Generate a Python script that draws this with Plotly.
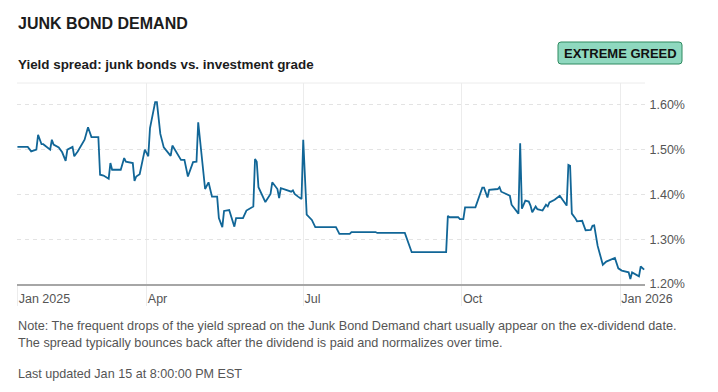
import plotly.graph_objects as go

# ---------------- data ----------------
dates = [
    "2025-01-16", "2025-01-22", "2025-01-24", "2025-01-27", "2025-01-28", "2025-01-30", "2025-01-31",
    "2025-02-04", "2025-02-05", "2025-02-06", "2025-02-09", "2025-02-11", "2025-02-13", "2025-02-14",
    "2025-02-17", "2025-02-18", "2025-02-20", "2025-02-24", "2025-02-26", "2025-02-28",
    "2025-03-04", "2025-03-05", "2025-03-07", "2025-03-10", "2025-03-11", "2025-03-12", "2025-03-17",
    "2025-03-19", "2025-03-20", "2025-03-24", "2025-03-25", "2025-03-26", "2025-03-28", "2025-03-31",
    "2025-04-02", "2025-04-03", "2025-04-06", "2025-04-07", "2025-04-09", "2025-04-11", "2025-04-15",
    "2025-04-16", "2025-04-21", "2025-04-23", "2025-04-25", "2025-04-28", "2025-04-30",
    "2025-05-01", "2025-05-05", "2025-05-07", "2025-05-09", "2025-05-12", "2025-05-13", "2025-05-15",
    "2025-05-16", "2025-05-19", "2025-05-22", "2025-05-23", "2025-05-27", "2025-05-29",
    "2025-06-02", "2025-06-03", "2025-06-04", "2025-06-05", "2025-06-09", "2025-06-12", "2025-06-13",
    "2025-06-16", "2025-06-17", "2025-06-18", "2025-06-21", "2025-06-24", "2025-06-25", "2025-06-26",
    "2025-06-28", "2025-06-30",
    "2025-07-01", "2025-07-03", "2025-07-06", "2025-07-08", "2025-07-20", "2025-07-22", "2025-07-28",
    "2025-07-29",
    "2025-08-12", "2025-08-13", "2025-08-29",
    "2025-09-02", "2025-09-22", "2025-09-23", "2025-09-24", "2025-09-29", "2025-09-30",
    "2025-10-02", "2025-10-03", "2025-10-09", "2025-10-13", "2025-10-14", "2025-10-16", "2025-10-17",
    "2025-10-22", "2025-10-23", "2025-10-24", "2025-10-27", "2025-10-29", "2025-10-30",
    "2025-11-01", "2025-11-03", "2025-11-04", "2025-11-05", "2025-11-07", "2025-11-09", "2025-11-10",
    "2025-11-11", "2025-11-13", "2025-11-14", "2025-11-17", "2025-11-19", "2025-11-20", "2025-11-21",
    "2025-11-24", "2025-11-27",
    "2025-12-01", "2025-12-02", "2025-12-03", "2025-12-04", "2025-12-06", "2025-12-07", "2025-12-10",
    "2025-12-12", "2025-12-15", "2025-12-16", "2025-12-17", "2025-12-19", "2025-12-22", "2025-12-24",
    "2025-12-29", "2025-12-31",
    "2026-01-02", "2026-01-06", "2026-01-07", "2026-01-08", "2026-01-12", "2026-01-13", "2026-01-15",
]
spread = [
    1.506, 1.506, 1.496, 1.500, 1.533, 1.512, 1.512,
    1.500, 1.522, 1.511, 1.505, 1.494, 1.475, 1.500,
    1.506, 1.485, 1.496, 1.522, 1.550, 1.528,
    1.528, 1.444, 1.442, 1.435, 1.470, 1.455, 1.455,
    1.481, 1.473, 1.470, 1.430, 1.440, 1.445, 1.500,
    1.485, 1.548, 1.606, 1.606, 1.535, 1.505, 1.486,
    1.509, 1.477, 1.477, 1.440, 1.472, 1.473,
    1.561, 1.412, 1.427, 1.395, 1.395, 1.347, 1.327,
    1.363, 1.365, 1.328, 1.347, 1.347, 1.364,
    1.373, 1.479, 1.473, 1.416, 1.383, 1.401, 1.427,
    1.412, 1.392, 1.414, 1.410, 1.406, 1.409, 1.401,
    1.395, 1.390,
    1.522, 1.355, 1.343, 1.327, 1.327, 1.312, 1.312,
    1.316,
    1.316, 1.314, 1.314,
    1.271, 1.271, 1.352, 1.349, 1.349, 1.345,
    1.345, 1.371, 1.371, 1.415, 1.415, 1.393, 1.410,
    1.412, 1.416, 1.406, 1.401, 1.397, 1.377,
    1.366, 1.357, 1.514, 1.368, 1.386, 1.384, 1.375,
    1.360, 1.373, 1.367, 1.364, 1.377, 1.373, 1.382,
    1.388, 1.397,
    1.375, 1.466, 1.464, 1.357, 1.347, 1.340, 1.341,
    1.320, 1.321, 1.330, 1.331, 1.285, 1.243, 1.250,
    1.258, 1.235,
    1.230, 1.226, 1.211, 1.226, 1.217, 1.239, 1.232,
]

x_tick_vals = ["2025-01-16", "2025-04-01", "2025-07-01", "2025-10-01", "2026-01-01"]
x_tick_text = ["Jan 2025", "Apr", "Jul", "Oct", "Jan 2026"]
y_tick_vals = [1.20, 1.30, 1.40, 1.50, 1.60]
y_tick_text = ["1.20%", "1.30%", "1.40%", "1.50%", "1.60%"]

title = "JUNK BOND DEMAND"
subtitle = "Yield spread: junk bonds vs. investment grade"
badge = "EXTREME GREED"
note = ("Note: The frequent drops of the yield spread on the Junk Bond Demand chart usually appear on the ex-dividend date.<br>"
        "The spread typically bounces back after the dividend is paid and normalizes over time.")
updated = "Last updated Jan 15 at 8:00:00 PM EST"

# ---------------- layout helpers ----------------
W, H = 718, 392
L, R, T, B = 17, 73, 83, 108
PW, PH = W - L - R, H - T - B


def px(xp):
    return (xp - L) / PW


def py(yp):
    return (H - B - yp) / PH


FONT = "Liberation Sans, Arial, sans-serif"

fig = go.Figure()
fig.add_trace(go.Scatter(
    x=dates, y=spread, mode="lines",
    line=dict(color="#116697", width=1.8),
    hoverinfo="skip", showlegend=False,
))

fig.update_layout(
    width=W, height=H,
    margin=dict(l=L, r=R, t=T, b=B, autoexpand=False),
    paper_bgcolor="white", plot_bgcolor="white",
    font=dict(family=FONT, color="#555"),
    xaxis=dict(
        type="date",
        range=["2025-01-15 18:00", "2026-01-15 12:00"],
        tickvals=x_tick_vals, ticktext=x_tick_text,
        showgrid=True, gridcolor="#ececec", gridwidth=1,
        ticks="outside", ticklen=20, tickcolor="#ececec", tickwidth=1,
        ticklabelposition="outside right",
        ticklabelstandoff=2,
        tickfont=dict(size=12.5, color="#555", family=FONT),
        showline=True, linecolor="#a6a6a6", linewidth=1.5,
        zeroline=False, fixedrange=True, automargin=False,
    ),
    yaxis=dict(
        range=[1.20, 1.20 + PH / 448.0],
        side="right",
        tickvals=y_tick_vals, ticktext=y_tick_text,
        showgrid=True, gridcolor="#e3e3e3", gridwidth=1, griddash="4px,4px",
        ticks="outside", ticklen=1, tickcolor="rgba(0,0,0,0)",
        tickfont=dict(size=12.5, color="#555", family=FONT),
        showline=False, zeroline=False, fixedrange=True, automargin=False,
    ),
)

# top border of plot area
fig.add_shape(type="line", xref="paper", yref="paper", x0=0, x1=1, y0=1, y1=1,
              line=dict(color="#ececec", width=1))

# badge rounded rectangle
bx0, bx1, by0, by1, r = 558, 682, 42, 64, 3
path = (
    f"M {px(bx0 + r)},{py(by0)} L {px(bx1 - r)},{py(by0)} "
    f"Q {px(bx1)},{py(by0)} {px(bx1)},{py(by0 + r)} "
    f"L {px(bx1)},{py(by1 - r)} Q {px(bx1)},{py(by1)} {px(bx1 - r)},{py(by1)} "
    f"L {px(bx0 + r)},{py(by1)} Q {px(bx0)},{py(by1)} {px(bx0)},{py(by1 - r)} "
    f"L {px(bx0)},{py(by0 + r)} Q {px(bx0)},{py(by0)} {px(bx0 + r)},{py(by0)} Z"
)
fig.add_shape(type="path", xref="paper", yref="paper", path=path,
              fillcolor="#8fd8bf", line=dict(color="#2f8a60", width=1), layer="above")

annotations = [
    dict(text=f"<b>{title}</b>", x=px(16), y=py(24), xanchor="left", yanchor="middle",
         font=dict(size=16, color="#1c1c1c", family=FONT)),
    dict(text=f"<b>{subtitle}</b>", x=px(16), y=py(64), xanchor="left", yanchor="middle",
         font=dict(size=13.4, color="#1c1c1c", family=FONT)),
    dict(text=f"<b>{badge}</b>", x=px((bx0 + bx1) / 2), y=py((by0 + by1) / 2),
         xanchor="center", yanchor="middle",
         font=dict(size=13, color="#111", family=FONT)),
    dict(text=note, x=px(16), y=py(334), xanchor="left", yanchor="middle", align="left",
         font=dict(size=12.7, color="#555", family=FONT)),
    dict(text=updated, x=px(16), y=py(374), xanchor="left", yanchor="middle",
         font=dict(size=12.6, color="#555", family=FONT)),
]
for a in annotations:
    a.update(xref="paper", yref="paper", showarrow=False)
fig.update_layout(annotations=annotations)

fig.write_html(
    "out.html",
    config={"displayModeBar": False, "staticPlot": True},
    post_script="document.body.style.margin='0';document.body.style.overflow='hidden';",
)
